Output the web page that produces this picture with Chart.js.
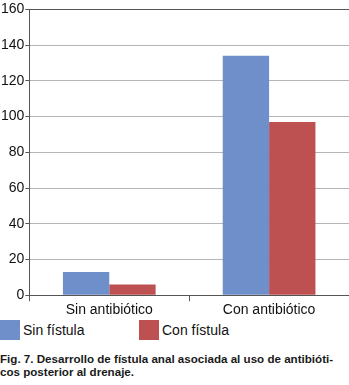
<!DOCTYPE html>
<html>
<head>
<meta charset="utf-8">
<script src="https://cdn.jsdelivr.net/npm/chart.js@4/dist/chart.umd.min.js"></script>
<style>
    body { margin: 0; background: #fff; font-family: "Liberation Sans", Arial, sans-serif; }
    #wrap { position: relative; width: 349px; height: 320px; }
    #legend { position: relative; height: 21px; margin-top: 0; font-size: 14px; color: #111; }
    .item { position: absolute; top: 0; display: flex; align-items: center; }
    .box { width: 20px; height: 20px; margin-right: 3px; }
    #caption { margin-top: 11px; font-size: 11.6px; font-weight: bold; line-height: 13px; color: #1a1a1a; }
</style>
</head>
<body>
<div id="wrap"><canvas id="fistulaChart"></canvas></div>
<div id="legend"></div>
<div id="caption">Fig. 7. Desarrollo de fístula anal asociada al uso de antibióti-<br>cos posterior al drenaje.</div>
<script>
const categories = ["Sin antibiótico", "Con antibiótico"];
const sinFistula = [13, 134];
const conFistula = [6, 97];
const seriesLabels = ["Sin fístula", "Con fístula"];
const seriesColors = ["#6f8fca", "#bd5051"];

document.addEventListener("DOMContentLoaded", function () {
    const ctx = document.getElementById("fistulaChart").getContext("2d");
    const dark = "#555555";

    const chart = new Chart(ctx, {
        type: "bar",
        data: {
            labels: categories,
            datasets: [
                { label: seriesLabels[0], data: sinFistula, backgroundColor: seriesColors[0] },
                { label: seriesLabels[1], data: conFistula, backgroundColor: seriesColors[1] },
            ],
        },
        options: {
            responsive: true,
            maintainAspectRatio: false,
            animation: false,
            layout: { padding: { top: 1, right: 0, left: 0, bottom: 0 } },
            datasets: {
                bar: { categoryPercentage: 0.58, barPercentage: 1.0 },
            },
            scales: {
                x: {
                    grid: { drawOnChartArea: false, color: dark, tickLength: 6 },
                    border: { color: dark },
                    ticks: { color: "#111", font: { size: 14, family: "Liberation Sans" }, padding: 1 },
                },
                y: {
                    min: 0,
                    max: 160,
                    ticks: { stepSize: 20, color: "#111", font: { size: 14, family: "Liberation Sans" }, padding: 1 },
                    grid: {
                        color: (c) => (c.tick && c.tick.value === 160 ? dark : "#b5b5b5"),
                        tickColor: dark,
                        tickLength: 4,
                    },
                    border: { color: dark },
                },
                y2: {
                    position: "right",
                    min: 0,
                    max: 160,
                    ticks: { display: false },
                    grid: { drawOnChartArea: false, drawTicks: false },
                    border: { color: dark },
                },
            },
            plugins: {
                legend: { display: false },
                tooltip: { enabled: false },
            },
        },
    });

    // legend built from the chart's datasets
    const legend = document.getElementById("legend");
    const lefts = [0, 139];
    chart.data.datasets.forEach((ds, i) => {
        const item = document.createElement("div");
        item.className = "item";
        item.style.left = lefts[i] + "px";
        item.innerHTML = '<span class="box" style="background:' + ds.backgroundColor + '"></span><span>' + ds.label + "</span>";
        legend.appendChild(item);
    });
});
</script>
</body>
</html>
